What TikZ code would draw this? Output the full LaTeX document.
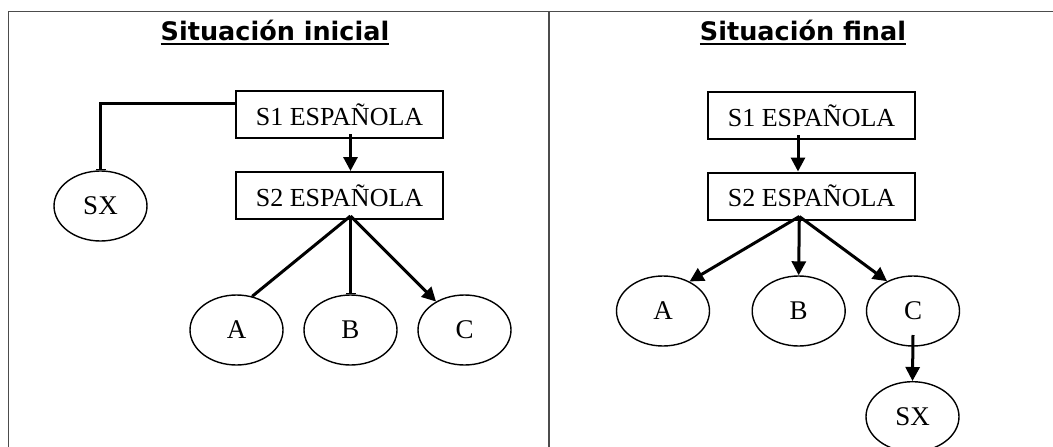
\documentclass[tikz,border=0pt]{standalone}
\usepackage{fontspec}
\setmainfont{Liberation Serif}
\newfontfamily\titulo{DejaVu Sans}
\usetikzlibrary{shapes}
\usetikzlibrary{arrows.meta}
\usetikzlibrary{positioning}
\tikzstyle{caja}=[
        rectangle,
        draw,
        line width=2pt,
        minimum width=207pt,
        minimum height=47pt,
        inner sep=0pt,
        font=\fontsize{26}{30}\selectfont
]
\tikzstyle{nodo}=[ellipse,draw,line width=1.4pt,minimum width=93pt,minimum height=70pt,inner sep=0pt,font=\fontsize{27}{31}\selectfont]
\tikzstyle{cabecera}=[inner sep=0pt,anchor=base,font=\titulo\bfseries\fontsize{25.5}{30}\selectfont]
\tikzstyle{flecha}=[-{Triangle[length=14pt,width=14pt]},line width=3pt]
\tikzstyle{linea}=[line width=3pt]
\tikzstyle{tope}=[-{Bar[width=10pt,line width=1.5pt]},line width=3pt]
\tikzstyle{marco}=[line width=1.5pt,draw=black!70]

\begin{document}
\begin{tikzpicture}[x=1pt,y=-1pt]
\useasboundingbox (0,0) rectangle (1053,447);
\draw[marco] (8.5,447) -- (8.5,11.7) -- (1053,11.7);
\draw[marco] (549,11.7) -- (549,447);
%Situacion inicial
\node[cabecera] (t1) at (275,40) {Situación inicial};
\node[caja] (a1) at (339.5,114.5) {S1 ESPAÑOLA};
\node[caja] (a2) at (339.5,195.5) {S2 ESPAÑOLA};
\node[nodo] (ax) at (100.5,206) {SX};
\node[nodo] (aa) at (236.5,330) {A};
\node[nodo] (ab) at (350.5,330) {B};
\node[nodo] (ac) at (464.5,330) {C};
\coordinate (ao) at ([xshift=11pt,yshift=4pt]a2.south);
%Situacion final
\node[cabecera] (t2) at (803,40) {Situación final};
\node[caja] (b1) at (811.5,115.5) {S1 ESPAÑOLA};
\node[caja] (b2) at (811.5,196) {S2 ESPAÑOLA};
\node[nodo] (ba) at (663,311) {A};
\node[nodo] (bb) at (798.7,311) {B};
\node[nodo] (bc) at (913,311) {C};
\node[nodo] (bx) at (912.5,416.7) {SX};
\coordinate (bo) at ([xshift=-12.2pt,yshift=4pt]b2.south);
%Subrayados
\draw[line width=2pt] ([yshift=-3.5pt]t1.base west) -- ([yshift=-3.5pt]t1.base east);
\draw[line width=2pt] ([yshift=-3.5pt]t2.base west) -- ([yshift=-3.5pt]t2.base east);
%Flechas
\draw[flecha] ([xshift=11pt,yshift=5pt]a1.south) -- ([xshift=11pt]a2.north);
\draw[tope] ([yshift=11pt]a1.west) -| (ax.north);
\draw[linea] (ao) -- (aa.65);
\draw[tope] (ao) -- (ab.north);
\draw[flecha] (ao) -- (ac.135);
\draw[flecha] ([xshift=-13.5pt,yshift=5pt]b1.south) -- ([xshift=-13.5pt]b2.north);
\draw[flecha] (bo) -- (ba.48);
\draw[flecha] (bo) -- (bb.north);
\draw[flecha] (bo) -- (bc.131);
\draw[flecha] ([yshift=-24pt]bc.center) -- (bx.north);
\end{tikzpicture}
\end{document}
